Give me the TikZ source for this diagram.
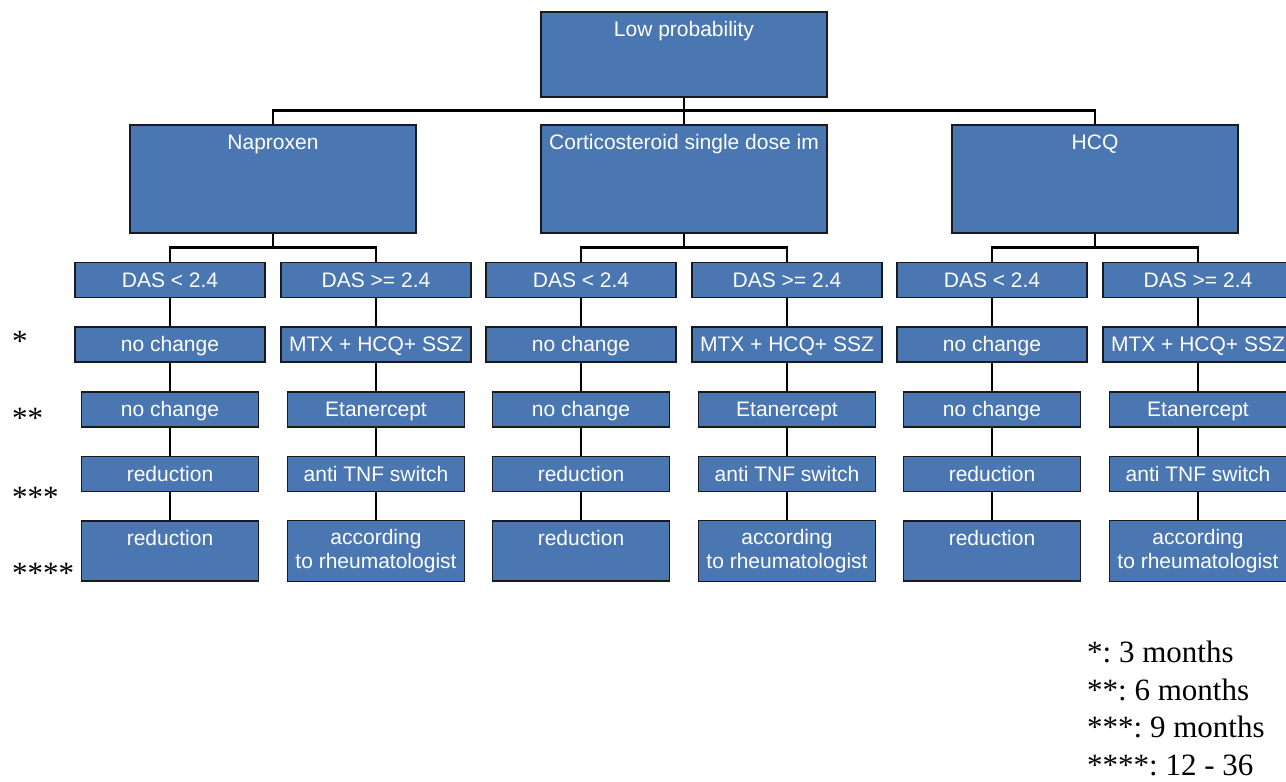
\documentclass[tikz,border=0pt]{standalone}
\usepackage{fontspec}
\setmainfont{Liberation Serif}
\newfontfamily\arialfont{Liberation Sans}
\usepackage{xcolor}
\definecolor{boxblue}{RGB}{74,118,178}
\definecolor{boxedge}{RGB}{24,26,32}
\frenchspacing

\begin{document}
\begin{tikzpicture}[x=1pt, y=-1pt,
  box/.style={draw=boxedge, line width=1.1pt, fill=boxblue, text=white,
    font=\arialfont\fontsize{21}{24}\selectfont, align=center,
    inner xsep=2pt, inner ysep=8.5pt},
  toptext/.style={text height=16pt, text depth=#1},
  bigbox/.style={box, minimum width=286pt, minimum height=#1},
  dasbox/.style={box, minimum width=190pt, minimum height=35pt, toptext=2pt},
  stepbox/.style={box, minimum width=177pt, minimum height=#1},
  star/.style={anchor=base west, inner sep=0pt, font=\fontsize{31}{38}\selectfont},
  link/.style={line width=2.3pt}]

\useasboundingbox (0,0) rectangle (1286,782);
\clip (0,0) rectangle (1286,782);

\node[bigbox=85pt, toptext=52pt] (lowp) at (684,54.5) {Low probability};

\foreach \g/\c/\lbl in {nap/273/Naproxen, cort/684/Corticosteroid single dose im, hcq/1095/HCQ}{
  \node[bigbox=108pt, toptext=75pt] (\g) at (\c,179) {\lbl};
  \node[dasbox] (\g-l0) at (\c-103,280) {DAS < 2.4};
  \node[dasbox] (\g-r0) at (\c+103,280) {DAS >= 2.4};
  \node[dasbox] (\g-l1) at (\c-103,344.5) {no change};
  \node[dasbox] (\g-r1) at (\c+103,344.5) {MTX + HCQ+ SSZ};
  \node[stepbox=35pt, toptext=2pt] (\g-l2) at (\c-103,409.5) {no change};
  \node[stepbox=35pt, toptext=2pt] (\g-r2) at (\c+103,409.5) {Etanercept};
  \node[stepbox=35pt, toptext=2pt] (\g-l3) at (\c-103,474) {reduction};
  \node[stepbox=35pt, toptext=2pt] (\g-r3) at (\c+103,474) {anti TNF switch};
  \node[stepbox=60pt, toptext=27pt] (\g-l4) at (\c-103,551) {reduction};
  \node[stepbox=60pt] (\g-r4) at (\c+103,551) {according\\to rheumatologist};

  \draw[link] (\g.south) -- ++(0,14.5);
  \draw[link] (\g-l0.north) -- ++(0,-14.5) -| (\g-r0.north);
  \draw[link] (\g-l0) -- (\g-l1) (\g-l1) -- (\g-l2) (\g-l2) -- (\g-l3) (\g-l3) -- (\g-l4);
  \draw[link] (\g-r0) -- (\g-r1) (\g-r1) -- (\g-r2) (\g-r2) -- (\g-r3) (\g-r3) -- (\g-r4);
}

\draw[link] (lowp) -- (cort);
\draw[link] (nap.north) -- ++(0,-14) -| (hcq.north);

\node[star] (s1) at (12,351) {*};
\node[star] (s2) at (12,428) {**};
\node[star] (s3) at (12,507) {***};
\node[star] (s4) at (12,583) {****};

\node[anchor=north west, inner sep=0pt, align=left, font=\fontsize{31}{37.5}\selectfont]
  (legend) at (1087,641) {*: 3 months\\**: 6 months\\***: 9 months\\****: 12 - 36};

\end{tikzpicture}
\end{document}
